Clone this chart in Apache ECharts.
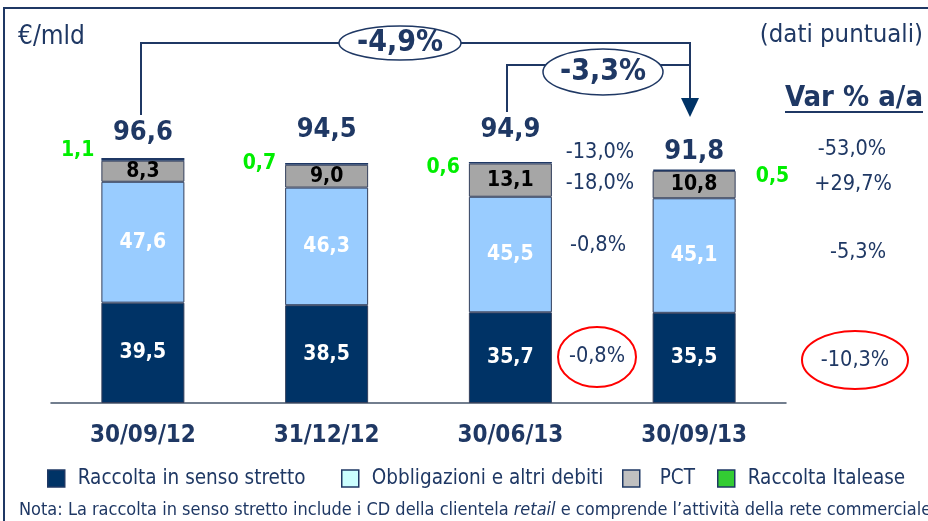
<!DOCTYPE html>
<html>
<head>
<meta charset="utf-8">
<script src="https://cdn.jsdelivr.net/npm/echarts@6/dist/echarts.min.js"></script>
<style>
html,body{margin:0;padding:0;background:#fff;}
#main{width:928px;height:521px;}
</style>
</head>
<body>
<div id="main"></div>
<script>
var chartDom = document.getElementById('main');
var myChart = echarts.init(chartDom);
var option;

//---------- data ----------
var categories = ['30/09/12', '31/12/12', '30/06/13', '30/09/13'];
var raccolta = [39.5, 38.5, 35.7, 35.5];
var obbligazioni = [47.6, 46.3, 45.5, 45.1];
var pct = [8.3, 9.0, 13.1, 10.8];
var italease = [1.1, 0.7, 0.6, 0.5];
var totali = [96.6, 94.5, 94.9, 91.8];
var varSemestre = ['-13,0%', '-18,0%', '-0,8%', '-0,8%'];
var varAnno = ['-53,0%', '+29,7%', '-5,3%', '-10,3%'];
var varTotale = ['-4,9%', '-3,3%'];
var seriesNames = ['Raccolta in senso stretto', 'Obbligazioni e altri debiti', 'PCT', 'Raccolta Italease'];
//--------------------------

var navy = '#1f3864';
var FONT = "'DejaVu Sans Condensed', 'DejaVu Sans', sans-serif";

function fmt(v) {
    return v.toFixed(1).replace('.', ',');
}

// italease label placement (left of bar, last one on the right)
var itlPos = ['left', 'left', 'left', 'right'];
var itlOff = [[-1, -9], [-3, 0], [-3, 5], [14, 6]];
var italeaseData = italease.map(function (v, i) {
    return {
        value: v,
        label: { position: itlPos[i], offset: itlOff[i] }
    };
});

var totOff = [[0, -3], [0, -11], [0, -10], [0, 4]];
var totData = totali.map(function (v, i) {
    return { value: v, label: { offset: totOff[i] } };
});

var segLabel = function (color) {
    return {
        show: true,
        position: 'inside',
        color: color,
        fontFamily: FONT,
        fontWeight: 'bold',
        fontSize: 21,
        formatter: function (p) { return fmt(p.value); }
    };
};

var barBorder = { borderColor: '#333f5c', borderWidth: 1 };

// one legend per item so each sits where it does in the picture
var legLeft = [42, 336, 617, 712];
var legIcon = ['#003366', '#ccffff', '#c0c0c0', '#33cc33'];
var legPad = [8, 8, 15, 8];
var legends = seriesNames.map(function (n, i) {
    return {
        left: legLeft[i],
        top: 463,
        itemWidth: 17,
        itemHeight: 17,
        textStyle: { color: navy, fontFamily: FONT, fontSize: 20.5, padding: [0, 0, 0, legPad[i]] },
        data: [{ name: n, icon: 'rect',
                 itemStyle: { color: legIcon[i], borderColor: navy, borderWidth: 1.5 } }]
    };
});

option = {
    animation: false,
    textStyle: { fontFamily: FONT },
    grid: { left: 51, right: 142, top: 149, bottom: 118 },
    xAxis: {
        type: 'category',
        data: categories,
        axisLine: { lineStyle: { color: '#44546a', width: 1.5 } },
        axisTick: { length: 7, lineStyle: { color: '#44546a', width: 1.5 } },
        axisLabel: {
            margin: 21,
            color: navy,
            fontFamily: FONT,
            fontWeight: 'bold',
            fontSize: 24
        }
    },
    yAxis: {
        type: 'value',
        min: 0,
        max: 100,
        show: false
    },
    legend: legends,
    series: [
        {
            name: seriesNames[0],
            type: 'bar',
            stack: 'tot',
            barWidth: 83,
            data: raccolta,
            itemStyle: Object.assign({ color: '#003366' }, barBorder),
            label: segLabel('#ffffff')
        },
        {
            name: seriesNames[1],
            type: 'bar',
            stack: 'tot',
            data: obbligazioni,
            itemStyle: Object.assign({ color: '#99ccff' }, barBorder),
            label: segLabel('#ffffff')
        },
        {
            name: seriesNames[2],
            type: 'bar',
            stack: 'tot',
            data: pct,
            itemStyle: Object.assign({ color: '#a6a6a6' }, barBorder),
            label: segLabel('#000000')
        },
        {
            name: seriesNames[3],
            type: 'bar',
            stack: 'tot',
            data: italeaseData,
            itemStyle: { color: navy, borderColor: navy, borderWidth: 1.5 },
            label: {
                show: true,
                distance: 6,
                color: '#00ee00',
                fontFamily: FONT,
                fontWeight: 'bold',
                fontSize: 21,
                formatter: function (p) { return fmt(p.value); }
            }
        },
        {
            name: 'Totale',
            type: 'scatter',
            symbolSize: 0,
            data: totData,
            silent: true,
            itemStyle: { opacity: 1 },
            label: {
                show: true,
                position: 'top',
                distance: 8,
                color: navy,
                opacity: 1,
                fontFamily: FONT,
                fontWeight: 'bold',
                fontSize: 27,
                formatter: function (p) { return fmt(p.value); }
            }
        }
    ],
    graphic: []
};

myChart.setOption(option);

//------- annotations --------
var g = [];
// frame
g.push({ type: 'rect', shape: { x: 4, y: 8, width: 1000, height: 600 },
    style: { fill: 'none', stroke: navy, lineWidth: 2 }, z: 0 });

function txt(x, y, s, size, opts) {
    var st = Object.assign({ text: s, x: x, y: y, fill: navy, font: size + 'px ' + FONT,
        align: 'center', verticalAlign: 'middle' }, opts || {});
    g.push({ type: 'text', style: st, z: 20 });
}

txt(18, 37, '€/mld', 26, { align: 'left' });
txt(923, 35, '(dati puntuali)', 25.5, { align: 'right' });
txt(923, 98, 'Var % a/a', 29, { align: 'right', font: 'bold 29px ' + FONT });
g.push({ type: 'line', shape: { x1: 785, y1: 112, x2: 923, y2: 112 },
    style: { stroke: navy, lineWidth: 2 }, z: 20 });

// brackets between totals
g.push({ type: 'polyline', shape: { points: [[141, 115], [141, 43], [690, 43], [690, 100]] },
    style: { stroke: navy, lineWidth: 2, fill: 'none' }, z: 10 });
g.push({ type: 'polyline', shape: { points: [[507, 112], [507, 65], [690, 65]] },
    style: { stroke: navy, lineWidth: 2, fill: 'none' }, z: 10 });
g.push({ type: 'polygon', shape: { points: [[681, 98], [699, 98], [690, 117]] },
    style: { fill: '#003366' }, z: 10 });

g.push({ type: 'ellipse', shape: { cx: 400, cy: 43, rx: 61, ry: 17 },
    style: { fill: '#fff', stroke: navy, lineWidth: 1.5 }, z: 15 });
g.push({ type: 'ellipse', shape: { cx: 603, cy: 72, rx: 60, ry: 23 },
    style: { fill: '#fff', stroke: navy, lineWidth: 1.5 }, z: 15 });
txt(400, 43, varTotale[0], 30, { font: 'bold 30px ' + FONT });
txt(603, 72, varTotale[1], 30, { font: 'bold 30px ' + FONT });

// variation columns
var semY = [152, 183, 245, 356];
var semX = [600, 600, 598, 597];
var annoY = [149, 184, 252, 360];
var annoX = [852, 853, 858, 855];
for (var i = 0; i < varSemestre.length; i++) {
    txt(semX[i], semY[i], varSemestre[i], 21.5);
    txt(annoX[i], annoY[i], varAnno[i], 21.5);
}
g.push({ type: 'ellipse', shape: { cx: 597, cy: 357, rx: 39, ry: 30 },
    style: { fill: 'none', stroke: '#ff0000', lineWidth: 2 }, z: 15 });
g.push({ type: 'ellipse', shape: { cx: 855, cy: 360, rx: 53, ry: 29 },
    style: { fill: 'none', stroke: '#ff0000', lineWidth: 2 }, z: 15 });

// footnote
g.push({ type: 'text', z: 20, style: {
    x: 19, y: 510, verticalAlign: 'middle',
    text: '{a|Nota: La raccolta in senso stretto include i CD della clientela }{i|retail}{a| e comprende l\u2019attivit\u00e0 della rete commerciale}',
    rich: {
        a: { fill: navy, font: '18px ' + FONT },
        i: { fill: navy, font: 'italic 18px ' + FONT }
    }
} });

myChart.setOption({ graphic: g });
</script>
</body>
</html>
